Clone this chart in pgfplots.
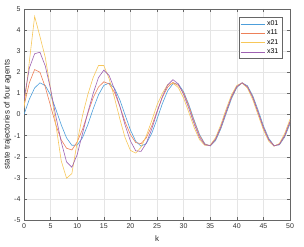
\documentclass[border=0pt]{standalone}
\usepackage{fontspec}
\setmainfont{Liberation Sans}
\usepackage{pgfplots}
\pgfplotsset{compat=1.18}
\definecolor{mblue}{rgb}{0.30,0.62,0.86}
\definecolor{morange}{rgb}{0.93,0.50,0.35}
\definecolor{myellow}{rgb}{0.97,0.78,0.35}
\definecolor{mpurple}{rgb}{0.62,0.38,0.70}
\begin{document}
\begin{tikzpicture}
\begin{axis}[
  at={(0,0)}, anchor=south west,
  scale only axis, width=266pt, height=211pt,
  xmin=0, xmax=50, ymin=-5, ymax=5,
  xtick={0,5,...,50}, ytick={-5,-4,...,5},
  grid=major, major grid style={black!10, line width=0.4pt},
  axis line style={black!60, line width=0.5pt},
  tick style={black!60, line width=0.4pt}, major tick length=3pt,
  tick align=inside,
  /pgf/number format/assume math mode=true,
  ticklabel style={font=\fontsize{7}{8}\selectfont, text=black!80},
  xlabel={k}, ylabel={state trajectories of four agents},
  label style={font=\fontsize{8}{9}\selectfont, text=black!85},
  xlabel style={at={(axis description cs:0.5,-0.09)}, anchor=center},
  ylabel style={at={(axis description cs:-0.062,0.5)}, anchor=center},
  legend style={at={(0.97,0.962)}, anchor=north east, font=\fontsize{7}{8}\selectfont,
    draw=black!60, line width=0.4pt, inner sep=1.5pt, row sep=-1pt},
  legend cell align=left,
  legend image code/.code={\draw[#1] (0pt,0pt) -- (24pt,0pt);},
  every axis plot/.append style={line width=0.6pt},
]
\addplot[mblue] coordinates {
(0,0) (1,0.72) (2,1.26) (3,1.50) (4,1.37) (5,0.92) (6,0.24) (7,-0.49) (8,-1.11) (9,-1.46)
(10,-1.45) (11,-1.10) (12,-0.48) (13,0.26) (14,0.93) (15,1.38) (16,1.49) (17,1.25) (18,0.70) (19,-0.02)
(20,-0.73) (21,-1.27) (22,-1.50) (23,-1.37) (24,-0.90) (25,-0.22) (26,0.51) (27,1.12) (28,1.46) (29,1.45)
(30,1.08) (31,0.46) (32,-0.28) (33,-0.95) (34,-1.39) (35,-1.49) (36,-1.24) (37,-0.68) (38,0.04) (39,0.75)
(40,1.28) (41,1.50) (42,1.36) (43,0.89) (44,0.21) (45,-0.53) (46,-1.13) (47,-1.47) (48,-1.44) (49,-1.07) (50,-0.44)
};
\addlegendentry{x01}
\addplot[morange] coordinates {
(0,0.4) (1,1.5) (2,2.13) (3,2.0) (4,1.3) (5,0.4) (6,-0.5) (7,-1.2) (8,-1.6) (9,-1.68)
(10,-1.3) (11,-0.7) (12,0.05) (13,0.8) (14,1.3) (15,1.55) (16,1.45) (17,1.05) (18,0.4) (19,-0.35)
(20,-0.95) (21,-1.33) (22,-1.38) (23,-1.1) (24,-0.55) (25,0.15) (26,0.8) (27,1.3) (28,1.52) (29,1.38)
(30,1.03) (31,0.39) (32,-0.35) (33,-1.00) (34,-1.41) (35,-1.48) (36,-1.19) (37,-0.62) (38,0.11) (39,0.81)
(40,1.31) (41,1.50) (42,1.32) (43,0.83) (44,0.13) (45,-0.60) (46,-1.18) (47,-1.48) (48,-1.42) (49,-1.02) (50,-0.37)
};
\addlegendentry{x11}
\addplot[myellow] coordinates {
(0,0.3) (1,2.5) (2,4.65) (3,3.7) (4,2.7) (5,1.2) (6,-0.5) (7,-2.2) (8,-3.02) (9,-2.8)
(10,-1.3) (11,-0.05) (12,0.95) (13,1.75) (14,2.32) (15,2.32) (16,1.7) (17,0.8) (18,-0.2) (19,-1.1)
(20,-1.7) (21,-1.83) (22,-1.55) (23,-1.0) (24,-0.3) (25,0.45) (26,1.0) (27,1.42) (28,1.48) (29,1.28)
(30,0.78) (31,0.09) (32,-0.63) (33,-1.20) (34,-1.46) (35,-1.45) (36,-1.10) (37,-0.48) (38,0.26) (39,0.93)
(40,1.38) (41,1.49) (42,1.25) (43,0.70) (44,-0.02) (45,-0.73) (46,-1.27) (47,-1.50) (48,-1.37) (49,-0.90) (50,-0.22)
};
\addlegendentry{x21}
\addplot[mpurple] coordinates {
(0,0.7) (1,2.2) (2,2.88) (3,2.95) (4,2.3) (5,1.2) (6,-0.1) (7,-1.3) (8,-2.25) (9,-2.5)
(10,-1.9) (11,-0.9) (12,0.1) (13,1.0) (14,1.75) (15,2.1) (16,1.85) (17,1.2) (18,0.4) (19,-0.5)
(20,-1.25) (21,-1.72) (22,-1.75) (23,-1.35) (24,-0.7) (25,0.1) (26,0.85) (27,1.4) (28,1.65) (29,1.45)
(30,0.95) (31,0.28) (32,-0.46) (33,-1.10) (34,-1.43) (35,-1.48) (36,-1.17) (37,-0.58) (38,0.15) (39,0.84)
(40,1.33) (41,1.50) (42,1.31) (43,0.80) (44,0.09) (45,-0.63) (46,-1.20) (47,-1.49) (48,-1.41) (49,-0.99) (50,-0.33)
};
\addlegendentry{x31}
\end{axis}
\pgfresetboundingbox
\path[use as bounding box] (-24pt,-26pt) rectangle (280pt,220pt);
\end{tikzpicture}
\end{document}
